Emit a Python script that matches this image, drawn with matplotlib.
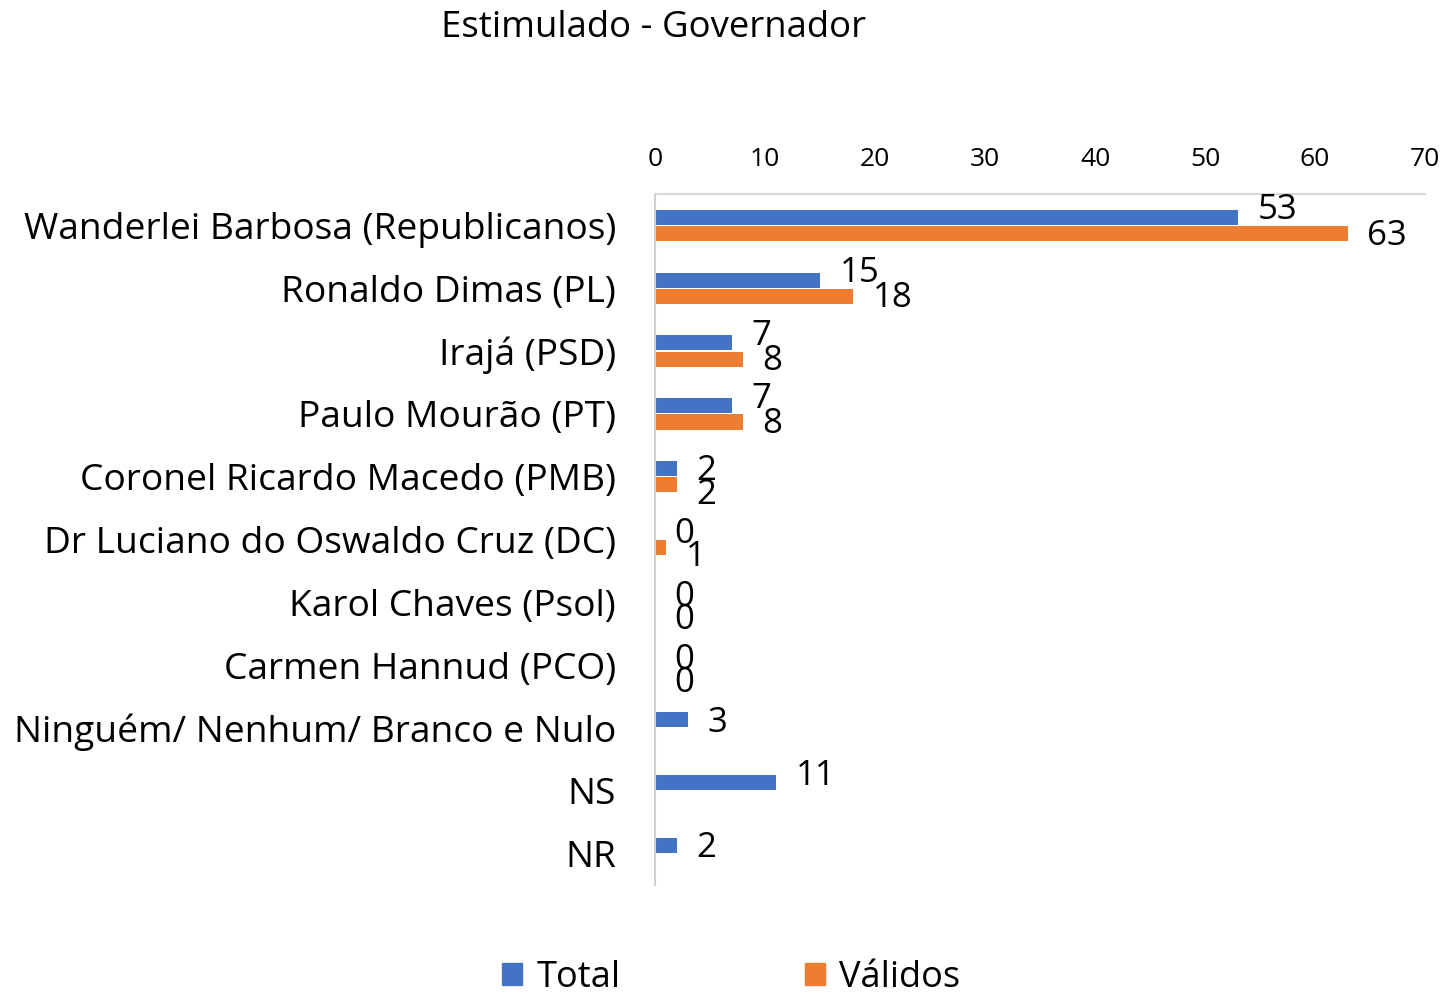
import numpy as np
import matplotlib
matplotlib.use("Agg")
import matplotlib.pyplot as plt
from matplotlib.patches import Patch

plt.rcParams['font.family'] = ['Open Sans', 'DejaVu Sans']

# dados do gráfico
candidatos = [
    "Wanderlei Barbosa (Republicanos)",
    "Ronaldo Dimas (PL)",
    "Irajá (PSD)",
    "Paulo Mourão (PT)",
    "Coronel Ricardo Macedo (PMB)",
    "Dr Luciano do Oswaldo Cruz (DC)",
    "Karol Chaves (Psol)",
    "Carmen Hannud (PCO)",
    "Ninguém/ Nenhum/ Branco e Nulo",
    "NS",
    "NR",
]
total = [53, 15, 7, 7, 2, 0, 0, 0, 3, 11, 2]
validos = [63, 18, 8, 8, 2, 1, 0, 0, np.nan, np.nan, np.nan]

cor_total = "#4472C4"
cor_validos = "#ED7D31"

fig = plt.figure(figsize=(14.45, 9.94), dpi=100)
ax = fig.add_axes([0.4533, 0.1097, 0.5329, 0.6951])

y = np.arange(len(candidatos))
h = 0.24
off = 0.13

ax.barh(y - off, total, height=h, color=cor_total)
ax.barh(y + off, validos, height=h, color=cor_validos)

# rótulos de dados (Excel afasta os rótulos quando os valores ficam perto)
for yi, v, w in zip(y, total, validos):
    dy = 5 if v >= 5 else -2
    ax.annotate(f"{v:g}", (v, yi - off), xytext=(14, dy), textcoords="offset points",
                ha="left", va="center", fontsize=25)
    if np.isnan(w):
        continue
    dyv = -1.5 if w >= 5 else -7
    ax.annotate(f"{w:g}", (w, yi + off), xytext=(14, dyv), textcoords="offset points",
                ha="left", va="center", fontsize=25)

ax.set_xlim(0, 70)
ax.set_ylim(len(candidatos) - 0.5, -0.5)
ax.set_yticks(y)
ax.set_yticklabels(candidatos, fontsize=26.7)
ax.set_xticks(np.arange(0, 71, 10))
ax.xaxis.tick_top()
ax.tick_params(axis="x", length=0, pad=16, labelsize=19)
ax.tick_params(axis="y", length=0, pad=28)

for s in ["right", "bottom"]:
    ax.spines[s].set_visible(False)
ax.spines["left"].set_color("#d0d0d0")
ax.spines["top"].set_color("#d9d9d9")
ax.spines["left"].set_linewidth(1.5)
ax.spines["top"].set_linewidth(1.5)

fig.text(0.4526, 0.972, "Estimulado - Governador", ha="center", va="center", fontsize=26.3)

handles = [Patch(color=cor_total, label="Total"), Patch(color=cor_validos, label="Válidos")]
fig.legend(handles=handles, loc="center", bbox_to_anchor=(0.506, 0.016), ncol=2, frameon=False,
           fontsize=26, handlelength=0.55, handleheight=0.55, handletextpad=0.4, columnspacing=5.1)

fig.savefig("out.png", dpi=100)
